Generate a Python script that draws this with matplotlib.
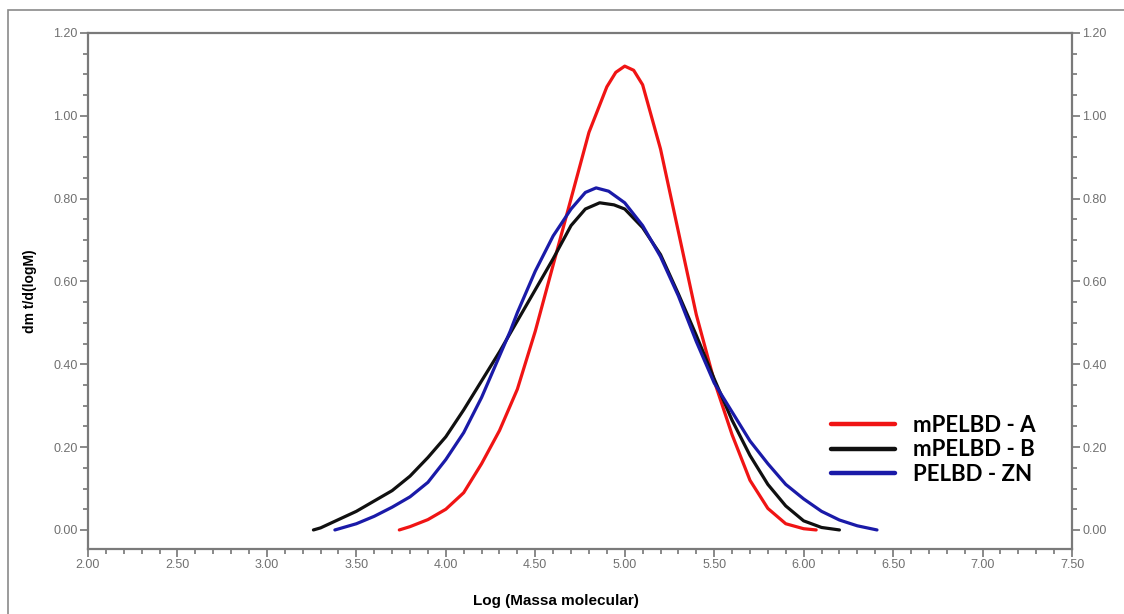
import numpy as np
import matplotlib.pyplot as plt
from matplotlib.ticker import MultipleLocator, FormatStrFormatter
from matplotlib.patches import Rectangle

# curvas
x_a = [3.74, 3.80, 3.90, 4.00, 4.10, 4.20, 4.30, 4.40, 4.50, 4.60, 4.70, 4.80,
       4.90, 4.95, 5.00, 5.05, 5.10, 5.20, 5.30, 5.40, 5.50, 5.60, 5.70, 5.80,
       5.90, 6.00, 6.07]
y_a = [0.00, 0.008, 0.025, 0.05, 0.09, 0.16, 0.24, 0.34, 0.48, 0.64, 0.80, 0.96,
       1.07, 1.105, 1.12, 1.11, 1.075, 0.92, 0.72, 0.52, 0.36, 0.23, 0.12, 0.052,
       0.015, 0.003, 0.00]

x_b = [3.26, 3.30, 3.40, 3.50, 3.60, 3.70, 3.80, 3.90, 4.00, 4.10, 4.20, 4.30,
       4.36, 4.40, 4.50, 4.60, 4.70, 4.78, 4.86, 4.94, 5.00, 5.10, 5.20, 5.30, 5.40,
       5.50, 5.60, 5.70, 5.80, 5.90, 6.00, 6.10, 6.20]
y_b = [0.00, 0.005, 0.025, 0.045, 0.07, 0.095, 0.13, 0.175, 0.225, 0.29, 0.36, 0.43,
       0.475, 0.505, 0.58, 0.655, 0.735, 0.775, 0.79, 0.785, 0.775, 0.73, 0.665, 0.57,
       0.47, 0.365, 0.265, 0.18, 0.11, 0.058, 0.022, 0.006, 0.00]

x_zn = [3.38, 3.50, 3.60, 3.70, 3.80, 3.90, 4.00, 4.10, 4.20, 4.30, 4.36, 4.40, 4.50,
        4.60, 4.70, 4.78, 4.84, 4.91, 5.00, 5.10, 5.20, 5.30, 5.40, 5.50, 5.60,
        5.70, 5.80, 5.90, 6.00, 6.10, 6.20, 6.30, 6.41]
y_zn = [0.00, 0.015, 0.033, 0.055, 0.08, 0.115, 0.17, 0.235, 0.32, 0.42, 0.48, 0.525,
        0.625, 0.71, 0.775, 0.815, 0.826, 0.818, 0.79, 0.735, 0.66, 0.565, 0.455,
        0.355, 0.285, 0.215, 0.16, 0.11, 0.075, 0.045, 0.024, 0.01, 0.00]

labels = ['mPELBD - A', 'mPELBD - B', 'PELBD - ZN']
cores = ['#f01414', '#101010', '#1a1aa8']

plt.rcParams['font.family'] = ['Liberation Sans', 'DejaVu Sans']
fig = plt.figure(figsize=(11.24, 6.14), dpi=100)
ax = fig.add_axes([88/1124, 1-549/614, (1072-88)/1124, (549-33)/614])

# moldura externa
fig.patches.append(Rectangle((8/1124, -0.05), 1.1, 1-10/614+0.05, transform=fig.transFigure,
                             fill=False, edgecolor='#8a8a8a', linewidth=1.2))

for xs, ys, lab, c in zip([x_a, x_b, x_zn], [y_a, y_b, y_zn], labels, cores):
    ax.plot(xs, ys, color=c, linewidth=2.3, label=lab, solid_capstyle='round')

ax.set_xlim(2.0, 7.5)
ax.set_ylim(-0.046, 1.2)

ax.xaxis.set_major_locator(MultipleLocator(0.5))
ax.xaxis.set_minor_locator(MultipleLocator(0.1))
ax.yaxis.set_major_locator(MultipleLocator(0.2))
ax.yaxis.set_minor_locator(MultipleLocator(0.05))
ax.xaxis.set_major_formatter(FormatStrFormatter('%.2f'))
ax.yaxis.set_major_formatter(FormatStrFormatter('%.2f'))

ax.tick_params(which='both', direction='out', color='#6a6a6a', labelcolor='#707070',
               labelsize=9, left=True, right=True, labelright=True, top=False)
ax.tick_params(which='major', length=6, width=1.1, pad=1.5)
ax.tick_params(which='minor', length=3.5, width=1.1)
for s in ax.spines.values():
    s.set_color('#7a7a7a')
    s.set_linewidth(1.6)

ax.set_ylabel('dm t/d(logM)', fontsize=10, fontweight='bold')
ax.yaxis.set_label_coords(-0.052, 0.5)
fig.text(556/1124, 1-601/614, 'Log (Massa molecular)', fontsize=11, fontweight='bold',
         ha='center', va='center')

leg = ax.legend(loc='center left', bbox_to_anchor=(0.735, 0.192), frameon=False,
                prop={'family': 'Lato', 'weight': 'bold', 'size': 16},
                handlelength=2.85, handletextpad=0.85, labelspacing=0.15)
for h in leg.get_lines():
    h.set_linewidth(3.2)

plt.savefig('out.png', dpi=100)
plt.close()
